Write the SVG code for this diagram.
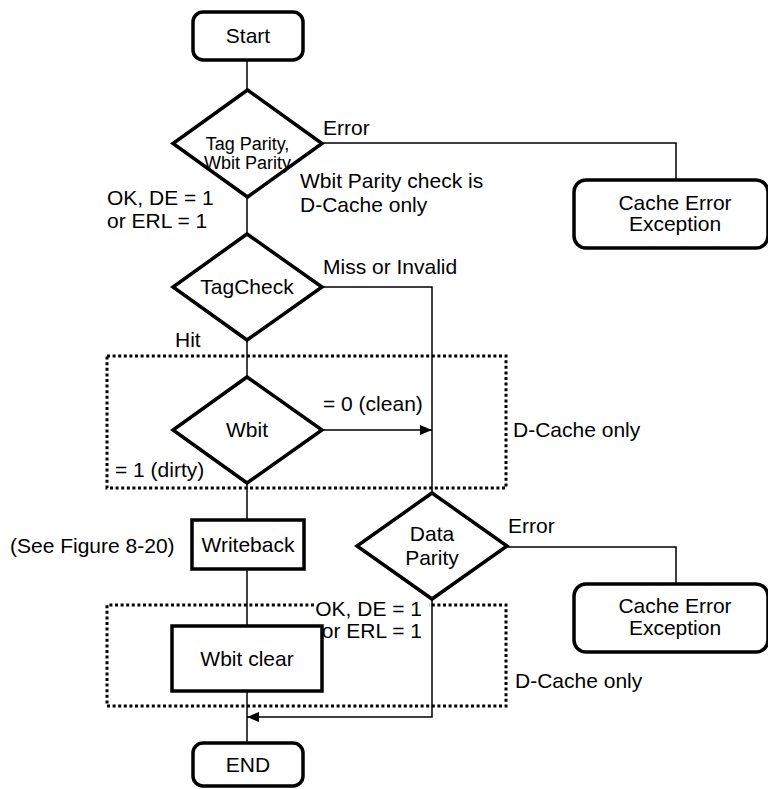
<svg xmlns="http://www.w3.org/2000/svg" width="768" height="789" viewBox="0 0 768 789">
<style>
  text { font-family: "Liberation Sans", Arial, sans-serif; font-size: 21px; fill: #000; }
  .c { text-anchor: middle; }
  .e { text-anchor: end; }
  .sm { font-size: 18px; }
  .term { fill: #fff; stroke: #000; stroke-width: 3.5; }
  .box { fill: #fff; stroke: #000; stroke-width: 3.5; }
  .dia { fill: #fff; stroke: #000; stroke-width: 3.5; stroke-linejoin: miter; }
  .conn { fill: none; stroke: #000; stroke-width: 1.5; }
  .dot { fill: none; stroke: #000; stroke-width: 3; stroke-dasharray: 3 2.6; }
</style>
<defs>
  <marker id="arr" markerWidth="12" markerHeight="10" refX="12" refY="5" orient="auto" markerUnits="userSpaceOnUse">
    <path d="M0,0 L12,5 L0,10 Z" fill="#000"/>
  </marker>
</defs>
<rect width="768" height="789" fill="#fff"/>

<g id="regions">
  <rect class="dot" x="107" y="356" width="399" height="132"/>
  <path class="dot" d="M314,605 L107,605 L107,706 L506,706 L506,605 L429,605"/>
  <text x="513" y="437">D-Cache only</text>
  <text x="515" y="688">D-Cache only</text>
</g>

<g id="connectors">
  <path class="conn" d="M247,60 V90"/>
  <path class="conn" d="M247,197 V234"/>
  <path class="conn" d="M322,143 H676 V180"/>
  <path class="conn" d="M322,287 H432 V493"/>
  <path class="conn" d="M247,340 V377"/>
  <path class="conn" d="M322,430 H432" marker-end="url(#arr)"/>
  <path class="conn" d="M247,483 V520"/>
  <path class="conn" d="M247,569 V626"/>
  <path class="conn" d="M247,691 V743"/>
  <path class="conn" d="M507,547 H676 V583"/>
  <path class="conn" d="M432,599 V717 H247" marker-end="url(#arr)"/>
  <text x="323" y="135">Error</text>
  <text x="300" y="188">Wbit Parity check is</text>
  <text x="300" y="212">D-Cache only</text>
  <text x="107" y="205">OK, DE = 1</text>
  <text x="107" y="228">or ERL = 1</text>
  <text x="323" y="274">Miss or Invalid</text>
  <text x="175" y="347">Hit</text>
  <text x="323" y="411">= 0 (clean)</text>
  <text x="115" y="477">= 1 (dirty)</text>
  <text x="10" y="553">(See Figure 8-20)</text>
  <text x="508" y="533">Error</text>
  <text class="e" x="422" y="616">OK, DE = 1</text>
  <text class="e" x="422" y="638">or ERL = 1</text>
</g>

<g id="start">
  <rect class="term" x="193" y="12" width="110" height="48" rx="10"/>
  <text class="c" x="248" y="43">Start</text>
</g>

<g id="parity">
  <polygon class="dia" points="247.5,90 322,143.5 247.5,197 173,143.5"/>
  <text class="c sm" x="247.5" y="150">Tag Parity,</text>
  <text class="c sm" x="247.5" y="169">Wbit Parity</text>
</g>

<g id="cache-error-1">
  <rect class="term" x="574" y="180" width="194" height="68" rx="12"/>
  <text class="c" x="675" y="210">Cache Error</text>
  <text class="c" x="675" y="231">Exception</text>
</g>

<g id="tagcheck">
  <polygon class="dia" points="247,234 322,287 247,340 173,287"/>
  <text class="c" x="247" y="294">TagCheck</text>
</g>

<g id="wbit">
  <polygon class="dia" points="247,377 322,430 247,483 173,430"/>
  <text class="c" x="247" y="437">Wbit</text>
</g>

<g id="writeback">
  <rect class="box" x="192" y="520" width="112" height="49"/>
  <text class="c" x="248" y="552">Writeback</text>
</g>

<g id="data-parity">
  <polygon class="dia" points="432,493 507,546 432,599 357,546"/>
  <text class="c" x="432" y="541">Data</text>
  <text class="c" x="432" y="565">Parity</text>
</g>

<g id="cache-error-2">
  <rect class="term" x="574" y="584" width="194" height="68" rx="12"/>
  <text class="c" x="675" y="613">Cache Error</text>
  <text class="c" x="675" y="635">Exception</text>
</g>

<g id="wbit-clear">
  <rect class="box" x="172" y="626" width="150" height="65"/>
  <text class="c" x="247" y="666">Wbit clear</text>
</g>

<g id="end">
  <rect class="term" x="193" y="743" width="110" height="43" rx="10"/>
  <text class="c" x="248" y="772">END</text>
</g>
</svg>
